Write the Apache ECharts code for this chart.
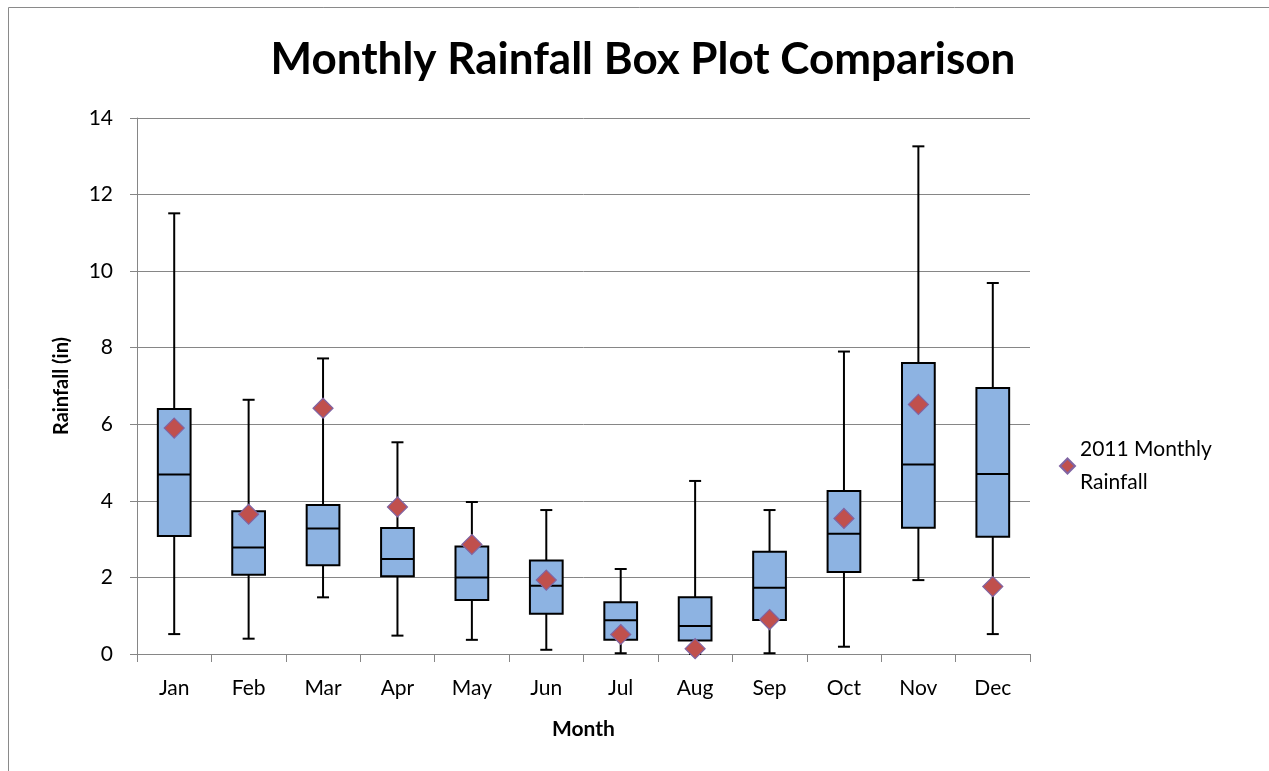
<!DOCTYPE html>
<html><head><meta charset="utf-8">
<script src="https://cdn.jsdelivr.net/npm/echarts@6/dist/echarts.min.js"></script>
<style>html,body{margin:0;padding:0;background:#fff}#c{width:1269px;height:771px}</style>
</head><body><div id="c"></div>
<script>
const months = ['Jan','Feb','Mar','Apr','May','Jun','Jul','Aug','Sep','Oct','Nov','Dec'];
const whiskerLow  = [0.52, 0.40, 1.48, 0.48, 0.37, 0.11, 0.02, 0.00, 0.02, 0.19, 1.93, 0.52];
const q1          = [3.08, 2.07, 2.32, 2.03, 1.41, 1.05, 0.37, 0.35, 0.89, 2.14, 3.30, 3.06];
const median      = [4.69, 2.78, 3.28, 2.48, 2.00, 1.78, 0.88, 0.73, 1.73, 3.14, 4.95, 4.70];
const q3          = [6.40, 3.73, 3.89, 3.29, 2.81, 2.44, 1.35, 1.48, 2.67, 4.26, 7.60, 6.95];
const whiskerHigh = [11.51, 6.64, 7.72, 5.53, 3.97, 3.76, 2.22, 4.52, 3.76, 7.90, 13.26, 9.69];
const rain2011    = [5.90, 3.65, 6.42, 3.84, 2.86, 1.93, 0.51, 0.14, 0.90, 3.54, 6.52, 1.76];
const yTicks = [0, 2, 4, 6, 8, 10, 12, 14];

const FONT = 'Lato';
const boxData = months.map((m, i) => [i, whiskerLow[i], q1[i], median[i], q3[i], whiskerHigh[i]]);

const chart = echarts.init(document.getElementById('c'));
chart.setOption({
  backgroundColor: '#fff',
  animation: false,
  title: {
    text: 'Monthly Rainfall Box Plot Comparison',
    left: 638, textAlign: 'center', top: 33,
    textStyle: { fontFamily: FONT, fontWeight: 'bold', fontSize: 44, color: '#000' }
  },
  legend: {
    left: 1054, top: 428, orient: 'vertical',
    data: [{ name: '2011 Monthly Rainfall', icon: 'diamond' }],
    itemWidth: 15, itemHeight: 15, itemGap: 4,
    formatter: () => '2011 Monthly\nRainfall',
    textStyle: { fontFamily: FONT, fontSize: 21, color: '#000', lineHeight: 33 }
  },
  graphic: [{
    type: 'rect', shape: { x: 8.5, y: 7.5, width: 1270, height: 780 },
    style: { fill: 'none', stroke: '#8a8a8a', lineWidth: 1 }, silent: true, z: -1
  }],
  grid: { left: 137, right: 239, top: 118, bottom: 117 },
  xAxis: {
    type: 'category', data: months, boundaryGap: true,
    name: 'Month', nameLocation: 'middle', nameGap: 65,
    nameTextStyle: { fontFamily: FONT, fontWeight: 'bold', fontSize: 21, color: '#000' },
    axisLine: { lineStyle: { color: '#868686', width: 1 } },
    axisTick: { show: true, length: 8, lineStyle: { color: '#868686' } },
    axisLabel: { fontFamily: FONT, fontSize: 21, color: '#000', margin: 24 },
    splitLine: { show: false }
  },
  yAxis: {
    type: 'value', min: 0, max: 14, interval: 2,
    name: 'Rainfall (in)', nameLocation: 'middle', nameGap: 65, nameRotate: 90,
    nameTextStyle: { fontFamily: FONT, fontWeight: 'bold', fontSize: 20, color: '#000' },
    axisLine: { show: true, lineStyle: { color: '#868686', width: 1 } },
    axisTick: { show: true, length: 7, lineStyle: { color: '#868686' } },
    axisLabel: { fontFamily: FONT, fontSize: 21, color: '#000', margin: 24,
      formatter: v => yTicks.includes(v) ? String(v) : '' },
    splitLine: { lineStyle: { color: '#868686', width: 1 } }
  },
  series: [{
    type: 'custom', name: 'box',
    data: boxData,
    encode: { x: 0, y: [1, 2, 3, 4, 5] },
    renderItem: function (params, api) {
      const i = api.value(0);
      const lo = api.coord([i, api.value(1)]);
      const b1 = api.coord([i, api.value(2)]);
      const md = api.coord([i, api.value(3)]);
      const b3 = api.coord([i, api.value(4)]);
      const hi = api.coord([i, api.value(5)]);
      const cx = lo[0];
      const bw = api.size([1, 0])[0] * 0.44;
      const cw = 12;
      const ls = { stroke: '#000', lineWidth: 2 };
      return {
        type: 'group',
        children: [
          { type: 'line', shape: { x1: cx, y1: hi[1], x2: cx, y2: b3[1] }, style: ls },
          { type: 'line', shape: { x1: cx, y1: b1[1], x2: cx, y2: lo[1] }, style: ls },
          { type: 'line', shape: { x1: cx - cw / 2, y1: hi[1], x2: cx + cw / 2, y2: hi[1] }, style: ls },
          { type: 'line', shape: { x1: cx - cw / 2, y1: lo[1], x2: cx + cw / 2, y2: lo[1] }, style: ls },
          { type: 'rect', shape: { x: cx - bw / 2, y: b3[1], width: bw, height: b1[1] - b3[1] },
            style: { fill: '#8DB3E2', stroke: '#000', lineWidth: 2 } },
          { type: 'line', shape: { x1: cx - bw / 2, y1: md[1], x2: cx + bw / 2, y2: md[1] }, style: ls }
        ]
      };
    },
    z: 2
  }, {
    type: 'scatter', name: '2011 Monthly Rainfall',
    data: rain2011, symbol: 'diamond', symbolSize: 20,
    itemStyle: { color: '#C0504D', borderColor: '#8064A2', borderWidth: 1.2, opacity: 1 },
    z: 5
  }]
});
</script></body></html>
